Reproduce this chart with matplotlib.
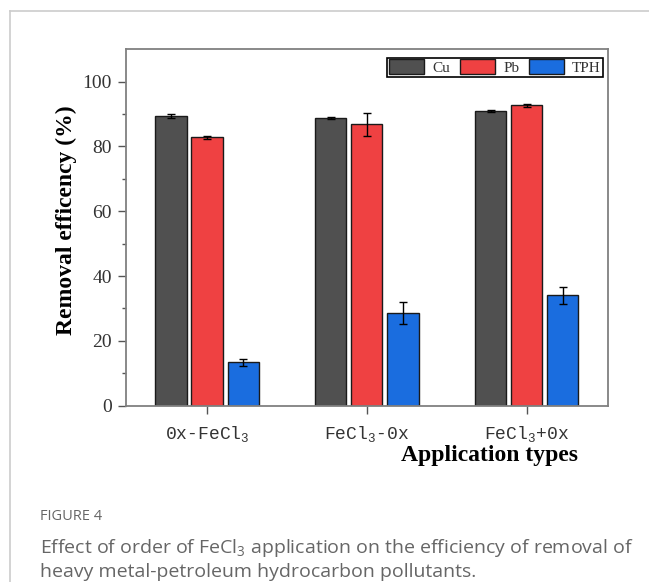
import matplotlib
matplotlib.use("Agg")
import matplotlib.pyplot as plt
import numpy as np

# Données
categories = ["0x-FeCl$_3$", "FeCl$_3$-0x", "FeCl$_3$+0x"]
series = ["Cu", "Pb", "TPH"]
cu = [89.3, 88.8, 91.0]
pb = [82.8, 86.8, 92.7]
tph = [13.4, 28.6, 34.0]
cu_err = [0.55, 0.4, 0.3]
pb_err = [0.45, 3.6, 0.4]
tph_err = [1.15, 3.4, 2.7]
colors = ["#505050", "#ef4142", "#1a6ddf"]

plt.rcParams['mathtext.default'] = 'regular'

fig = plt.figure(figsize=(6.49, 5.82), dpi=100)
ax = fig.add_axes([0.1935, 0.3030, 0.7435, 0.6125])

x = np.arange(len(categories))
step = 0.226
width = 0.195
values = [cu, pb, tph]
errors = [cu_err, pb_err, tph_err]
for i in range(3):
    ax.bar(x + (i - 1) * step, values[i], width, yerr=errors[i], color=colors[i],
           edgecolor="#1a1a1a", linewidth=1.0, label=series[i],
           error_kw=dict(ecolor="black", elinewidth=1.0, capsize=3, capthick=1.0))

ax.set_xlim(-0.51, 2.51)
ax.set_ylim(0, 110)
ax.set_yticks([0, 20, 40, 60, 80, 100])
ax.set_yticks([10, 30, 50, 70, 90], minor=True)
ax.set_xticks(x)
ax.set_xticklabels(categories, family="Liberation Mono", fontsize=13, color="#333333")
for lab in ax.get_yticklabels():
    lab.set_family("Liberation Serif")
    lab.set_fontsize(14)
    lab.set_color("#333333")

for s in ax.spines.values():
    s.set_color("#808080")
    s.set_linewidth(1.3)
ax.tick_params(axis="both", which="major", direction="out", length=6, width=1.0,
               color="#555555", pad=4)
ax.tick_params(axis="x", which="major", pad=7)
ax.tick_params(axis="y", which="minor", direction="out", length=3, width=1.0, color="#555555")

ax.set_ylabel("Removal efficency (%)", family="Liberation Serif", fontweight="bold", fontsize=17)
ax.yaxis.set_label_coords(-0.1, 0.52)
ax.set_xlabel("Application types", family="Liberation Serif", fontweight="bold", fontsize=17)
ax.xaxis.set_label_coords(0.755, -0.11)

leg = ax.legend(ncol=3, loc="upper right", bbox_to_anchor=(0.995, 0.985),
                prop={"family": "Liberation Serif", "size": 11},
                frameon=True, fancybox=False, edgecolor="black", framealpha=1,
                handlelength=2.3, handleheight=1.1, columnspacing=0.6,
                handletextpad=0.55, borderpad=0.12, borderaxespad=0.2)
leg.get_frame().set_linewidth(1.2)
for t in leg.get_texts():
    t.set_color("#333333")

# cadre et légende de la figure
fig.add_artist(plt.Line2D([10/649, 1], [1 - 11/582, 1 - 11/582], color="#cccccc", lw=1.2))
fig.add_artist(plt.Line2D([10/649, 10/649], [0, 1 - 11/582], color="#cccccc", lw=1.2))
fig.text(40/649, 1 - 516/582, "FIGURE 4", family="Open Sans", fontsize=10.5,
         color="#666666", va="center")
fig.text(40/649, 1 - 548/582,
         "Effect of order of FeCl$_3$ application on the efficiency of removal of",
         family="Open Sans", fontsize=14, color="#666666", va="center")
fig.text(40/649, 1 - 572/582, "heavy metal-petroleum hydrocarbon pollutants.",
         family="Open Sans", fontsize=14, color="#666666", va="center")

fig.savefig("out.png", dpi=100)
